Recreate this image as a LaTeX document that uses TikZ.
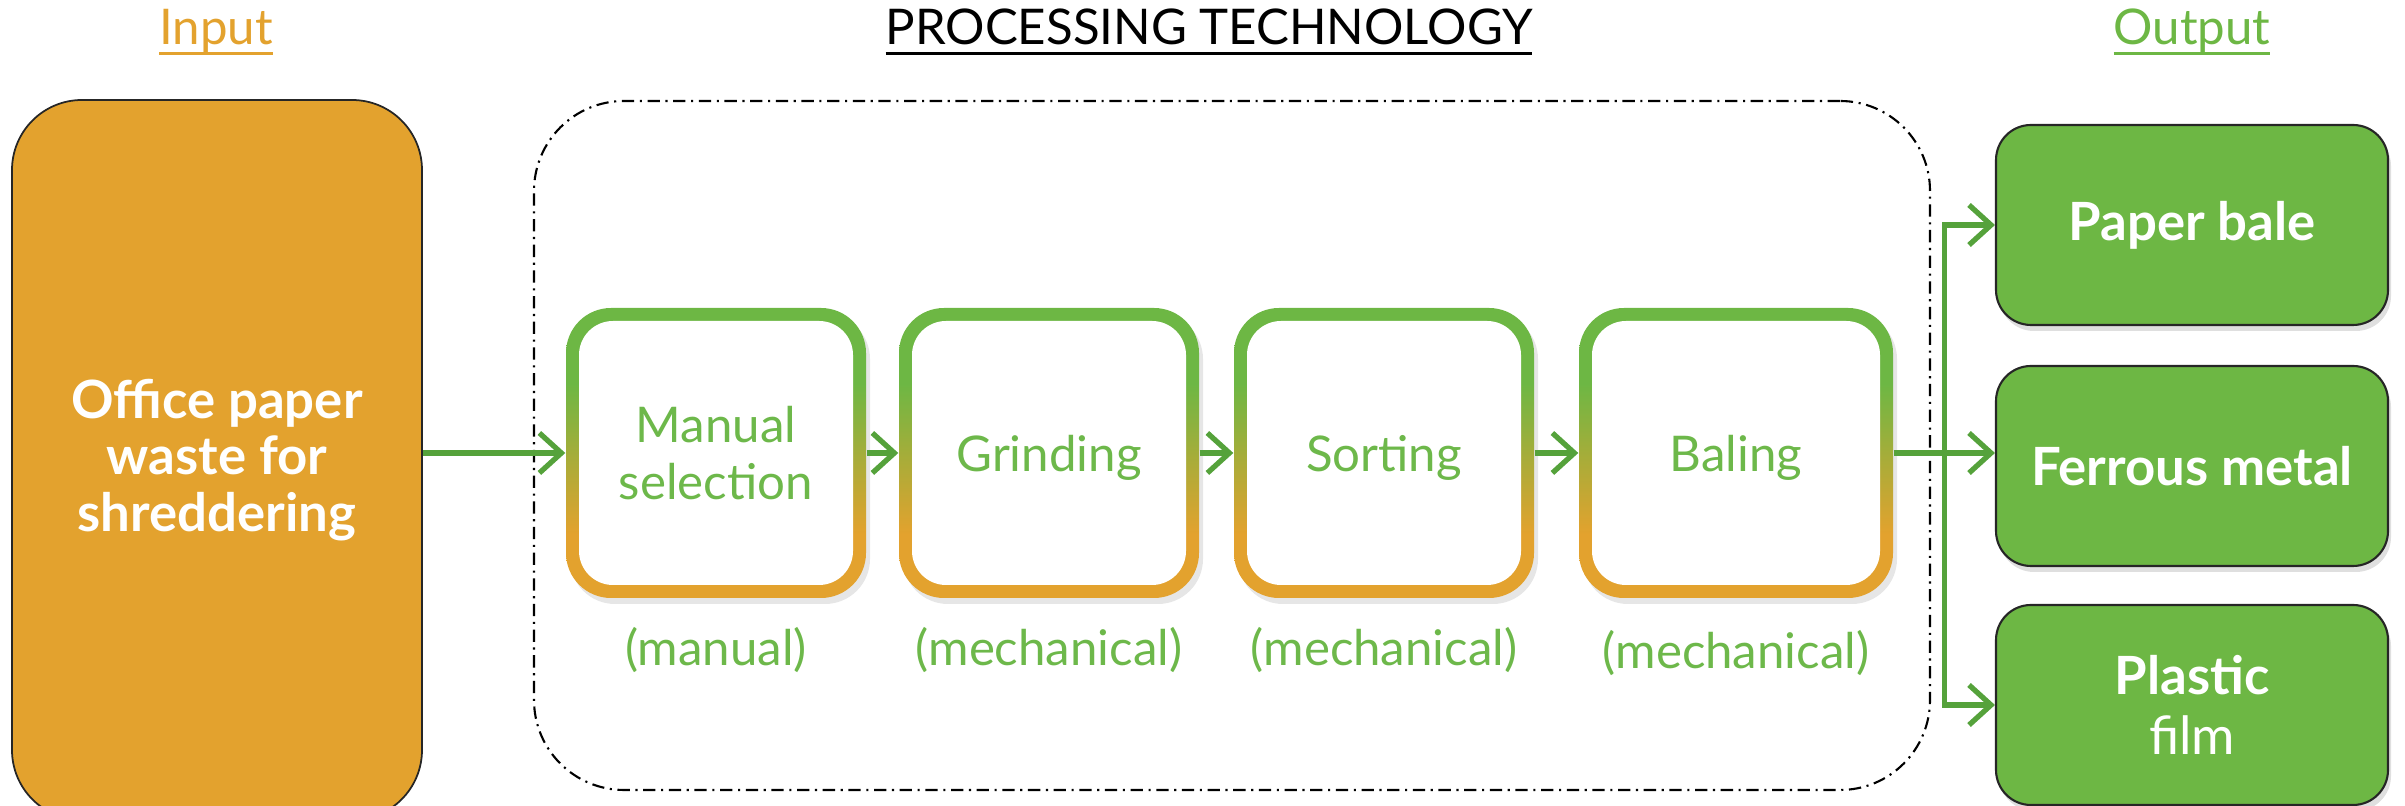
\documentclass[tikz,border=0pt]{standalone}
\usepackage{fontspec}
\setmainfont{Lato}
\usetikzlibrary{positioning,calc,arrows.meta,shadows}

\definecolor{inorange}{HTML}{E3A22E}
\definecolor{outgreen}{HTML}{6DB744}
\definecolor{txtgreen}{HTML}{6DB84A}
\definecolor{flowgreen}{HTML}{55A23B}

\pgfdeclareverticalshading{stepfade}{100bp}{color(0bp)=(inorange); color(36bp)=(inorange); color(62bp)=(outgreen); color(100bp)=(outgreen)}

\newcommand{\ulined}[1]{\setbox0=\hbox{#1}\rlap{\rule[-1mm]{\wd0}{0.3mm}}\box0}

\begin{document}
\begin{tikzpicture}[x=0.1mm, y=-0.1mm,
  title/.style={font=\fontsize{14}{16}\selectfont},
  inbox/.style={fill=inorange, draw=black!85, line width=0.5pt, rounded corners=7mm, minimum width=41mm, minimum height=72mm, text=white, align=center, font=\fontsize{15}{16}\selectfont\bfseries},
  stepbox/.style={shade, shading=stepfade, rounded corners=4.5mm, minimum width=30mm, minimum height=29mm, text depth=0pt, align=center, text=txtgreen, font=\fontsize{14}{16}\selectfont, drop shadow={opacity=0.2, shadow xshift=0.4mm, shadow yshift=-0.6mm}, path picture={\fill[white, rounded corners=3.4mm] ([shift={(1.3mm,-1.3mm)}]path picture bounding box.north west) rectangle ([shift={(-1.3mm,1.3mm)}]path picture bounding box.south east);}},
  kind/.style={text=txtgreen, font=\fontsize{14}{16}\selectfont},
  outbox/.style={fill=outgreen, draw=black!85, line width=0.6pt, rounded corners=3.5mm, minimum width=39.2mm, minimum height=20mm, text=white, align=center, font=\fontsize{15}{17}\selectfont\bfseries, drop shadow={opacity=0.25, shadow xshift=0.3mm, shadow yshift=-0.6mm}},
  frame/.style={draw=black, line width=0.6pt, dash pattern=on 3.5pt off 1.6pt on 0.6pt off 1.6pt, rounded corners=9mm, minimum width=139.6mm, minimum height=68.9mm},
  flow/.style={draw=flowgreen, line width=1.5pt, -{Straight Barb[length=2.2mm, width=4mm]}}]
\useasboundingbox (0,0) rectangle (2405,806);

% titles
\node[title, text=inorange] (intitle) at (216,32) {\ulined{Input}};
\node[title, text=black] (techtitle) at (1209,32) {\ulined{PROCESSING TECHNOLOGY}};
\node[title, text=outgreen] (outtitle) at (2192,32) {\ulined{Output}};

% input and frame
\node[inbox] (input) at (217,460) {Office paper\\waste for\\shreddering};
\node[frame] (tech) at (1232,445.5) {};

% processing steps
\node[stepbox] (manual) at (716,453) {Manual\\selection};
\node[stepbox] (grinding) at (1049,453) {Grinding};
\node[stepbox] (sorting) at (1384,453) {Sorting};
\node[stepbox, minimum width=31.4mm] (baling) at (1736,453) {Baling};
\node[kind, below=1.6mm of manual] (manualkind) {(manual)};
\node[kind, below=1.6mm of grinding] (grindingkind) {(mechanical)};
\node[kind, below=1.6mm of sorting] (sortingkind) {(mechanical)};
\node[kind, below=1.9mm of baling] (balingkind) {(mechanical)};

% outputs
\node[outbox] (paper) at (2192,225) {Paper bale};
\node[outbox] (ferrous) at (2192,466) {Ferrous metal};
\node[outbox] (plastic) at (2192,705) {Plastic\\{\mdseries film}};

% connectors
\draw[flow] (input.east |- manual.west) -- (manual.west);
\draw[flow] (manual.east) -- (grinding.west);
\draw[flow] (grinding.east) -- (sorting.west);
\draw[flow] (sorting.east) -- (baling.west);
\draw[flow] (baling.east) -- (baling.east -| ferrous.west);
\coordinate (split) at ($(baling.east)!0.5!(baling.east -| ferrous.west)$);
\draw[flow] (split) |- (paper.west);
\draw[flow] (split) |- (plastic.west);
\end{tikzpicture}
\end{document}
